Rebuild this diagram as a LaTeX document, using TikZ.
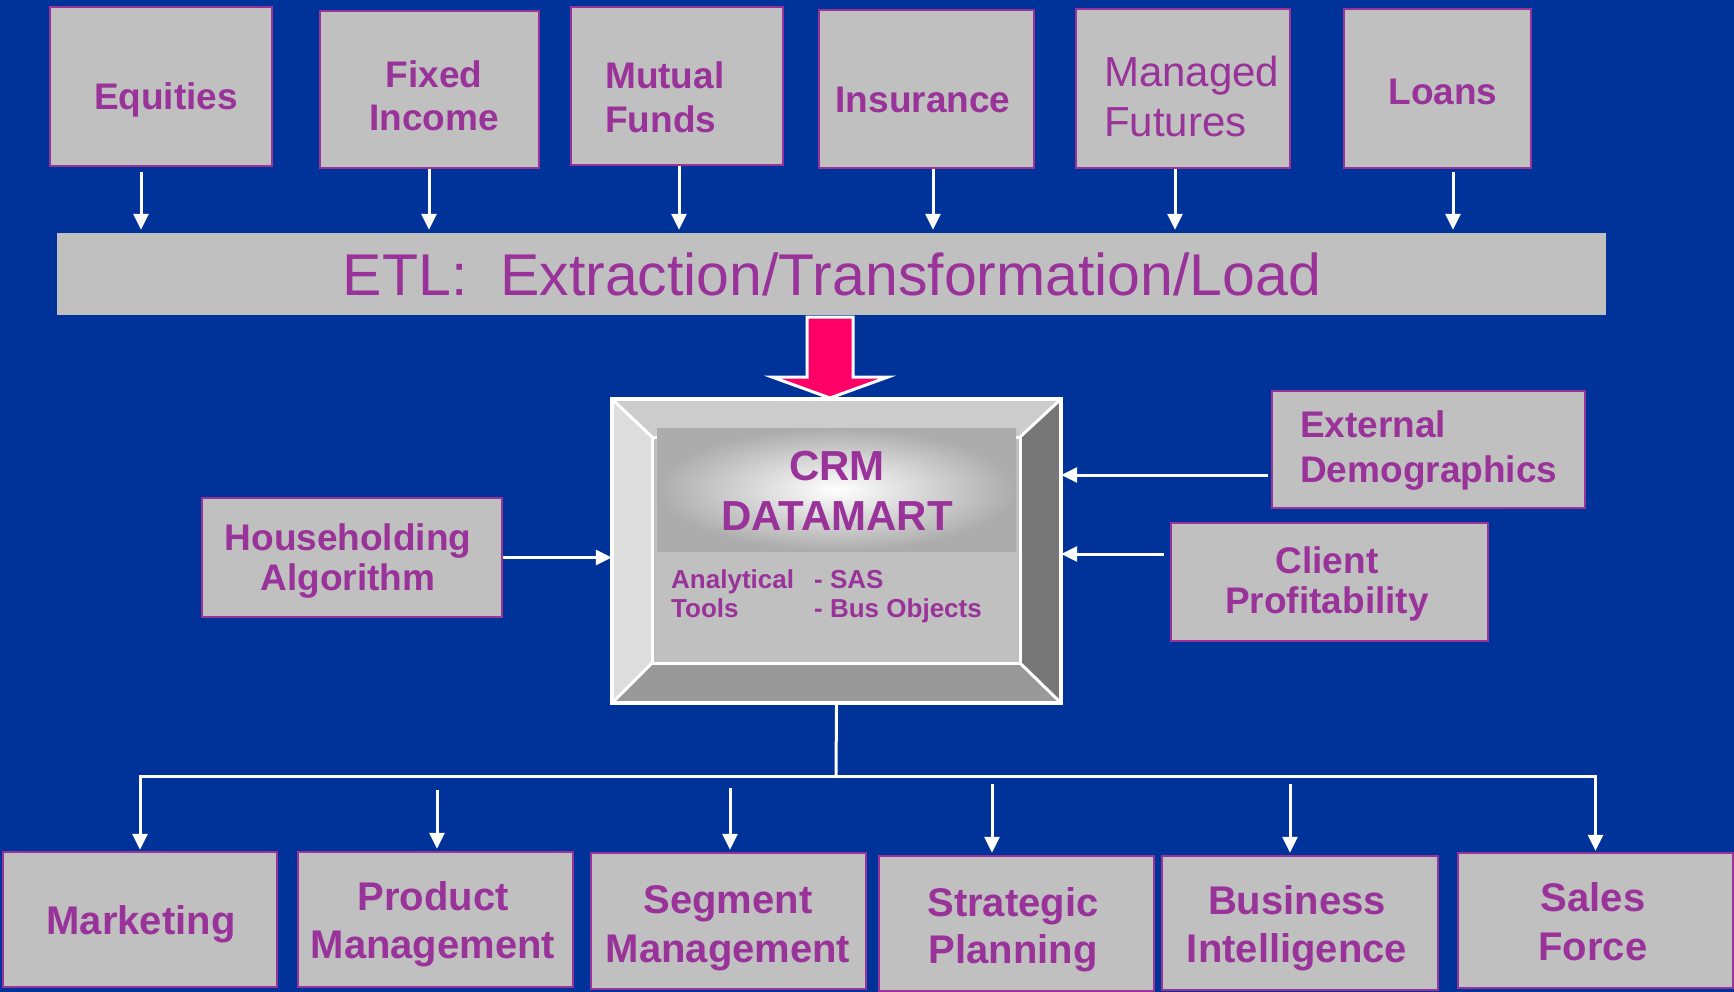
\documentclass[tikz,border=0pt]{standalone}
\usepackage{fontspec}
\setmainfont{Liberation Sans}
\usetikzlibrary{arrows.meta,calc}
\definecolor{bg}{HTML}{003399}
\definecolor{boxgray}{HTML}{C0C0C0}
\definecolor{purp}{HTML}{993399}
\definecolor{pinkfill}{HTML}{FF0066}
\definecolor{bevtop}{HTML}{CCCCCC}
\definecolor{bevleft}{HTML}{DDDDDD}
\definecolor{bevright}{HTML}{777777}
\definecolor{bevbot}{HTML}{999999}
\definecolor{shadegray}{HTML}{ACACAC}
\begin{document}
\begin{tikzpicture}[x=1pt,y=-1pt,
  box/.style={draw=purp, line width=2.5pt, fill=boxgray, inner sep=0pt},
  lbl/.style={text=purp, inner sep=0pt, anchor=base, align=center, font=\bfseries\fontsize{37}{43}\selectfont},
  lblL/.style={lbl, anchor=base west, align=left},
  arr/.style={draw=white, line width=3pt, -{Triangle[width=15pt,length=16pt]}},
  wline/.style={draw=white, line width=3pt},
]
\fill[bg] (0,0) rectangle (1734,992);
\useasboundingbox (0,0) rectangle (1734,992);

% ---------- top source boxes ----------
\node[box, minimum width=222pt, minimum height=159pt] (eq) at (161,86.5) {};
\node[box, minimum width=219pt, minimum height=157pt] (fi) at (429.5,89.5) {};
\node[box, minimum width=212pt, minimum height=158pt] (mf) at (677,86) {};
\node[box, minimum width=215pt, minimum height=158pt] (ins) at (926.5,89) {};
\node[box, minimum width=214pt, minimum height=159pt] (mgf) at (1183,88.5) {};
\node[box, minimum width=187pt, minimum height=159pt] (lo) at (1437.5,88.5) {};

% (for two-line labels the base anchor is the baseline of the last line)
\node[lbl] (eqT) at (166,110) {Equities};
\node[lbl] (fiT) at (434,131) {Fixed\\Income};
\node[lblL, font=\bfseries\fontsize{37}{44}\selectfont] (mfT) at (605,133) {Mutual\\Funds};
\node[lbl] (insT) at (923,113) {Insurance};
\node[lblL, font=\fontsize{42}{50}\selectfont] (mgfT) at (1104,137) {Managed\\Futures};
\node[lbl] (loT) at (1443,105) {Loans};

% ---------- ETL bar ----------
\node[fill=boxgray, inner sep=0pt, minimum width=1549pt, minimum height=82pt] (etl) at (831.5,274) {};
\node[lbl, font=\fontsize{59}{62}\selectfont] (etlT) at (832,295) {ETL:\ \ Extraction/Transformation/Load};

\coordinate (a1) at ($(eq.south)+(-20,5)$);
\coordinate (a2) at ($(fi.south)+(-0.5,0)$);
\coordinate (a3) at ($(mf.south)+(2,0)$);
\coordinate (a4) at ($(ins.south)+(6.5,0)$);
\coordinate (a5) at ($(mgf.south)+(-8,0)$);
\coordinate (a6) at ($(lo.south)+(15.5,3)$);
\foreach \c in {a1,a2,a3,a4,a5,a6}
  \draw[arr, shorten >=3pt] (\c) -- (\c |- etl.north);

% ---------- CRM datamart ----------
\node[inner sep=0pt, minimum width=449pt, minimum height=304pt] (crm) at (836.5,551) {};
\fill[bevtop]   (612,399) -- (1061,399) -- (1020,437) -- (652,437) -- cycle;
\fill[bevleft]  (612,399) -- (652,437) -- (652,663) -- (612,703) -- cycle;
\fill[bevright] (1061,399) -- (1061,703) -- (1020,663) -- (1020,437) -- cycle;
\fill[bevbot]   (612,703) -- (1061,703) -- (1020,663) -- (652,663) -- cycle;
\draw[white, line width=3pt, fill=boxgray] (652,437) rectangle (1020,663);
\shade[inner color=white, outer color=shadegray] (657,428) rectangle (1016,551);
\draw[white, line width=3pt] (612,399) -- (652,437) (1061,399) -- (1020,437)
      (612,703) -- (652,663) (1061,703) -- (1020,663);
\draw[white, line width=4pt] (612,399) rectangle (1061,703);

\node[lbl, font=\bfseries\fontsize{42}{50}\selectfont] (crmT) at (837,530) {CRM\\DATAMART};
\node[lblL, font=\bfseries\fontsize{26}{29}\selectfont] (atT) at (671,617) {Analytical\\Tools};
\node[lblL, font=\bfseries\fontsize{26}{29}\selectfont] (at2T) at (814,617) {- SAS\\- Bus Objects};

% pink block arrow from ETL to CRM
\filldraw[fill=pinkfill, draw=white, line width=3pt, line join=miter]
  (807,317) -- (853,317) -- (853,377) -- (888,377) -- (830,398) -- (772,377) -- (807,377) -- cycle;

% ---------- side inputs ----------
\node[box, minimum width=300pt, minimum height=119pt] (hh) at (352,557.5) {};
\node[lbl, font=\bfseries\fontsize{37}{40}\selectfont] (hhT) at (348,590) {Householding\\Algorithm};
\node[box, minimum width=313pt, minimum height=117pt] (ed) at (1428.5,449.5) {};
\node[lblL, font=\bfseries\fontsize{37}{45}\selectfont] (edT) at (1300,482) {External\\Demographics};
\node[box, minimum width=317pt, minimum height=118pt] (cp) at (1329.5,582) {};
\node[lbl, font=\bfseries\fontsize{37}{40}\selectfont] (cpT) at (1327,613) {Client\\Profitability};

\draw[arr] (hh.east) -- (hh.east -| crm.west);
\coordinate (edA) at ($(ed.west)+(-3,25.5)$);
\draw[arr] (edA) -- (edA -| crm.east);
\coordinate (cpA) at ($(cp.west)+(-6,-28)$);
\draw[arr] (cpA) -- (cpA -| crm.east);

% ---------- bottom outputs ----------
\node[box, minimum width=274pt, minimum height=135pt] (mkt) at (140,919.5) {};
\node[box, minimum width=275pt, minimum height=135pt] (pm) at (435.5,919.5) {};
\node[box, minimum width=275pt, minimum height=136pt] (sm) at (728.5,921) {};
\node[box, minimum width=275pt, minimum height=135pt] (sp) at (1016.5,923.5) {};
\node[box, minimum width=276pt, minimum height=134pt] (bi) at (1300,923) {};
\node[box, minimum width=275pt, minimum height=135pt] (sf) at (1595.5,920.5) {};

\node[lbl, font=\bfseries\fontsize{40}{48}\selectfont] (mktT) at (141,934) {Marketing};
\node[lbl, font=\bfseries\fontsize{40}{48}\selectfont] (pmT) at (433,958) {Product\\Management};
\node[lbl, font=\bfseries\fontsize{40}{49}\selectfont] (smT) at (728,962) {Segment\\Management};
\node[lbl, font=\bfseries\fontsize{40}{47}\selectfont] (spT) at (1013,963) {Strategic\\Planning};
\node[lbl, font=\bfseries\fontsize{40}{48}\selectfont] (biT) at (1297,962) {Business\\Intelligence};
\node[lbl, font=\bfseries\fontsize{40}{49}\selectfont] (sfT) at (1593,960) {Sales\\Force};

\coordinate (busC) at (836,776);
\draw[wline] (crm.south) -- (busC);
\draw[arr, shorten >=1pt] (busC) -| (mkt.north);
\draw[arr, shorten >=1pt] (busC) -| (sf.north);
\coordinate (pmA) at (437,790);
\coordinate (smA) at (730,788);
\coordinate (spA) at (992,784);
\coordinate (biA) at (1290,784);
\foreach \c/\n in {pmA/pm,smA/sm,spA/sp,biA/bi}
  \draw[arr, shorten >=2pt] (\c) -- (\c |- \n.north);
\end{tikzpicture}
\end{document}
